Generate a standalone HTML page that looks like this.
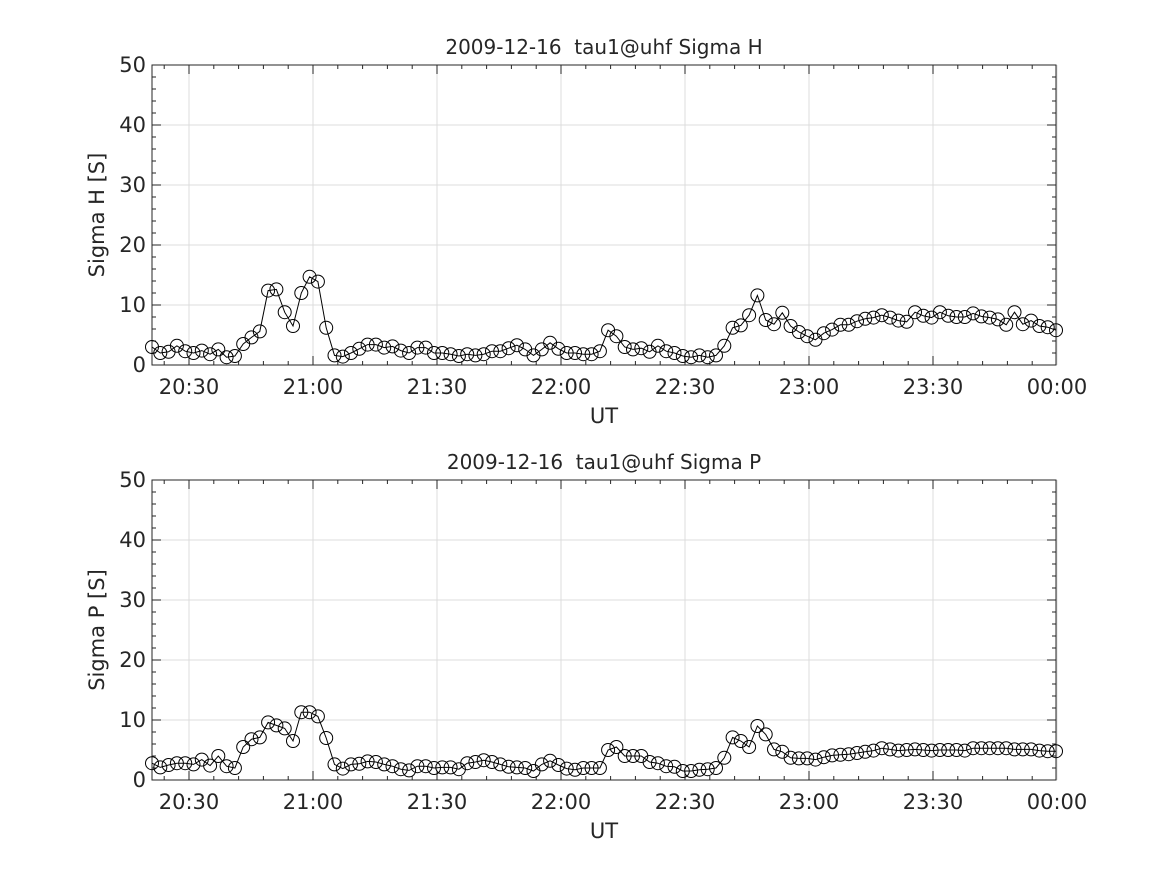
<!DOCTYPE html>
<html><head><meta charset="utf-8"><style>
html,body{margin:0;padding:0;background:#fff;}
svg text{font-family:"DejaVu Sans","Liberation Sans",sans-serif;fill:#262626;}
</style></head><body>
<svg id="s" width="1167" height="875" xmlns="http://www.w3.org/2000/svg"></svg>
<script>
var H=[3.0,2.0,2.2,3.2,2.3,2.0,2.4,1.8,2.6,1.3,1.5,3.5,4.6,5.6,12.4,12.6,8.8,6.5,12.0,14.7,13.9,6.2,1.6,1.4,2.0,2.7,3.4,3.4,2.9,3.1,2.4,2.0,2.9,2.9,2.0,2.0,1.8,1.5,1.8,1.6,1.8,2.3,2.3,2.8,3.3,2.6,1.6,2.6,3.7,2.7,2.0,2.0,1.8,1.8,2.3,5.8,4.8,3.0,2.6,2.8,2.2,3.2,2.3,2.0,1.5,1.3,1.6,1.3,1.6,3.2,6.2,6.6,8.3,11.6,7.5,6.8,8.7,6.5,5.5,4.8,4.2,5.3,5.9,6.7,6.7,7.3,7.7,7.9,8.3,7.9,7.4,7.2,8.8,8.2,7.9,8.8,8.2,8.0,8.0,8.6,8.1,7.9,7.6,6.7,8.8,6.8,7.4,6.5,6.3,5.8];
var P=[2.8,2.1,2.5,2.8,2.8,2.6,3.4,2.4,4.0,2.3,2.0,5.5,6.8,7.1,9.6,9.1,8.6,6.5,11.3,11.3,10.6,7.0,2.6,1.9,2.6,2.7,3.1,3.0,2.6,2.3,1.8,1.6,2.3,2.3,2.0,2.1,2.1,1.8,2.8,3.0,3.3,3.0,2.6,2.2,2.1,2.0,1.5,2.6,3.2,2.5,1.9,1.7,2.0,2.0,2.0,5.0,5.5,4.0,4.0,4.0,3.0,2.8,2.3,2.2,1.5,1.5,1.7,1.8,2.0,3.7,7.1,6.5,5.5,9.0,7.6,5.1,4.7,3.7,3.6,3.6,3.4,3.8,4.1,4.2,4.3,4.5,4.7,4.9,5.3,5.1,4.9,5.0,5.1,5.0,4.9,5.0,5.0,5.0,4.9,5.3,5.3,5.3,5.3,5.3,5.1,5.1,5.1,4.9,4.8,4.8];
var L=152,R=1056,dx=(R-L)/109;
var o='';
function panel(top,data,title,ylab){
 var bot=top+300;
 for(var v=10;v<50;v+=10){var y=bot-v*6;o+='<line x1="'+L+'" x2="'+R+'" y1="'+y+'" y2="'+y+'" stroke="#dcdcdc"/>';}
 var labs=['20:30','21:00','21:30','22:00','22:30','23:00','23:30','00:00'];
 for(var k=0;k<8;k++){var x=189+k*124;o+='<line x1="'+x+'" x2="'+x+'" y1="'+top+'" y2="'+bot+'" stroke="#dcdcdc"/>';}
 for(var m=0;m<200;m++){var x=189-124+m*124/5;if(x<L||x>R)continue;var big=(m%5==0);var t=big?9:4;
  o+='<line x1="'+x+'" x2="'+x+'" y1="'+bot+'" y2="'+(bot-t)+'" stroke="#262626"/><line x1="'+x+'" x2="'+x+'" y1="'+top+'" y2="'+(top+t)+'" stroke="#262626"/>';}
 for(var v=0;v<=50;v+=2){var y=bot-v*6;var big=(v%10==0);var t=big?9:4;
  o+='<line x1="'+L+'" x2="'+(L+t)+'" y1="'+y+'" y2="'+y+'" stroke="#262626"/><line x1="'+R+'" x2="'+(R-t)+'" y1="'+y+'" y2="'+y+'" stroke="#262626"/>';}
 o+='<rect x="'+L+'" y="'+top+'" width="'+(R-L)+'" height="300" fill="none" stroke="#262626"/>';
 for(var v=0;v<=50;v+=10){o+='<text x="'+(L-6)+'" y="'+(bot-v*6+7)+'" font-size="21" text-anchor="end">'+v+'</text>';}
 for(var k=0;k<8;k++){o+='<text x="'+(189+k*124)+'" y="'+(bot+29)+'" font-size="21" text-anchor="middle">'+labs[k]+'</text>';}
 o+='<text x="604" y="'+(bot+58)+'" font-size="21" text-anchor="middle">UT</text>';
 o+='<text x="604" y="'+(top-11)+'" font-size="20" text-anchor="middle" fill="#000">'+title+'</text>';
 o+='<text transform="translate(104,'+(top+150)+') rotate(-90)" font-size="21" text-anchor="middle">'+ylab+'</text>';
 var pts=data.map(function(v,i){return (L+i*dx).toFixed(1)+','+(bot-v*6).toFixed(1);});
 o+='<polyline points="'+pts.join(' ')+'" fill="none" stroke="#000" stroke-width="1"/>';
 data.forEach(function(v,i){o+='<circle cx="'+(L+i*dx).toFixed(1)+'" cy="'+(bot-v*6).toFixed(1)+'" r="6.5" fill="none" stroke="#000" stroke-width="1"/>';});
}
panel(65,H,'2009-12-16&#160; tau1@uhf Sigma H','Sigma H [S]');
panel(480,P,'2009-12-16&#160; tau1@uhf Sigma P','Sigma P [S]');
document.getElementById('s').innerHTML=o;
</script>
</body></html>
